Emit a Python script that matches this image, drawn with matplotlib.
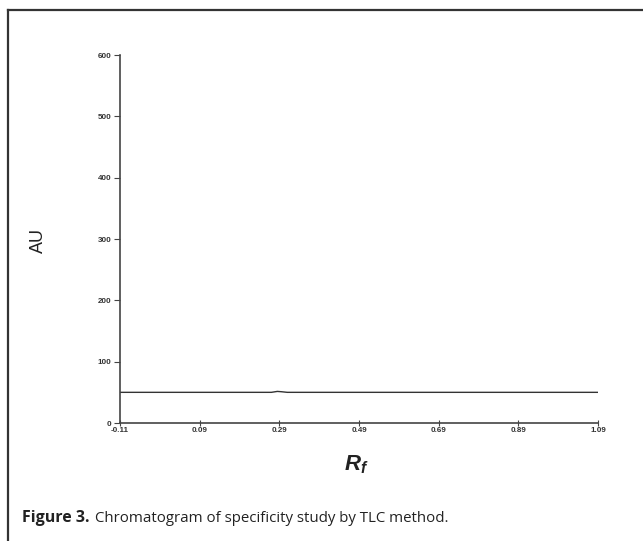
import matplotlib
matplotlib.use("Agg")
import matplotlib.pyplot as plt
from matplotlib.lines import Line2D

# Data
rf_values = [-0.11, 0.09, 0.27, 0.285, 0.295, 0.31, 0.49, 0.69, 0.89, 1.09]
au_values = [50, 50, 50, 51.5, 51, 50, 50, 50, 50, 50]
x_ticks = [-0.11, 0.09, 0.29, 0.49, 0.69, 0.89, 1.09]
x_tick_labels = ["-0.11", "0.09", "0.29", "0.49", "0.69", "0.89", "1.09"]
y_ticks = [0, 100, 200, 300, 400, 500, 600]
y_tick_labels = ["0", "100", "200", "300", "400", "500", "600"]

plt.rcParams["mathtext.fontset"] = "custom"
plt.rcParams["mathtext.it"] = "Liberation Sans:bold:italic"
plt.rcParams["mathtext.rm"] = "Liberation Sans:bold"

W, H = 643, 541
fig = plt.figure(figsize=(W / 100, H / 100), dpi=100)

ax = fig.add_axes([120 / W, 1 - 423 / H, (598 - 120) / W, (423 - 55) / H])
ax.plot(rf_values, au_values, color="#333333", lw=1.0)
ax.set_xlim(-0.11, 1.09)
ax.set_ylim(0, 600)
ax.set_xticks(x_ticks)
ax.set_xticklabels(x_tick_labels)
ax.set_yticks(y_ticks)
ax.set_yticklabels(y_tick_labels)
for s in ["top", "right"]:
    ax.spines[s].set_visible(False)
for s in ["left", "bottom"]:
    ax.spines[s].set_color("#444444")
    ax.spines[s].set_linewidth(1.2)
ax.tick_params(axis="y", direction="out", length=4, width=0.8, colors="#444444",
               labelsize=5.8, pad=2)
ax.tick_params(axis="x", direction="inout", length=4, width=0.8, colors="#444444",
               labelsize=5.8, pad=1)
for lab in ax.get_xticklabels() + ax.get_yticklabels():
    lab.set_fontweight("bold")
    lab.set_color("#333333")
    lab.set_family("Liberation Sans")

fig.text(38 / W, 1 - 240 / H, "AU", rotation=90, ha="center", va="center",
         fontsize=13, color="#222222", family="Liberation Sans")
fig.text(356 / W, 1 - 465 / H, r"$R_f$", ha="center", va="center",
         fontsize=16, color="#222222")

# Frame of the figure panel
fig.add_artist(Line2D([8 / W, 1.0], [1 - 10 / H, 1 - 10 / H], color="#333333", lw=1.6,
                      transform=fig.transFigure))
fig.add_artist(Line2D([8 / W, 8 / W], [0, 1 - 10 / H], color="#333333", lw=1.6,
                      transform=fig.transFigure))

fam = ["Open Sans", "DejaVu Sans"]
t1 = fig.text(22 / W, 1 - 518 / H, "Figure 3.", ha="left", va="center", fontsize=11.5,
              fontweight="bold", color="#222222", family=fam)
fig.canvas.draw()
bb = t1.get_window_extent()
fig.text((bb.x1 + 5) / W, 1 - 518 / H, "Chromatogram of specificity study by TLC method.",
         ha="left", va="center", fontsize=10.8, color="#222222", family=fam)

fig.savefig("out.png", dpi=100)
